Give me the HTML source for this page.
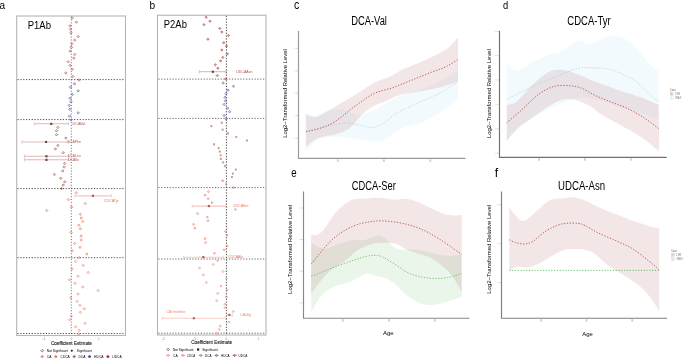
<!DOCTYPE html>
<html><head><meta charset="utf-8"><style>
html,body{margin:0;padding:0;background:#fff;width:685px;height:358px;overflow:hidden}
svg{display:block;will-change:transform}
</style></head><body>
<svg width="685" height="358" viewBox="0 0 685 358">
<rect width="685" height="358" fill="#fff"/>
<text x="-0.5" y="8.6" font-size="11.5" fill="#000" text-anchor="start" textLength="5.6" lengthAdjust="spacingAndGlyphs" font-family="Liberation Sans, sans-serif" >a</text>
<text x="149.6" y="8.5" font-size="11.8" fill="#000" text-anchor="start" textLength="5.6" lengthAdjust="spacingAndGlyphs" font-family="Liberation Sans, sans-serif" >b</text>
<text x="294" y="8.5" font-size="12" fill="#000" text-anchor="start" textLength="5.3" lengthAdjust="spacingAndGlyphs" font-family="Liberation Sans, sans-serif" >c</text>
<text x="503" y="8.6" font-size="11.8" fill="#000" text-anchor="start" textLength="5.2" lengthAdjust="spacingAndGlyphs" font-family="Liberation Sans, sans-serif" >d</text>
<text x="291.2" y="176.7" font-size="12.6" fill="#000" text-anchor="start" textLength="5.4" lengthAdjust="spacingAndGlyphs" font-family="Liberation Sans, sans-serif" >e</text>
<text x="494.8" y="176.7" font-size="12.2" fill="#000" text-anchor="start" textLength="3.4" lengthAdjust="spacingAndGlyphs" font-family="Liberation Sans, sans-serif" >f</text>
<path d="M305.8,113.0 C307.0,113.5 310.3,116.0 313.0,116.0 C315.7,116.0 319.2,113.9 322.0,113.0 C324.8,112.1 326.3,111.0 330.0,110.5 C333.7,110.0 339.3,109.0 344.0,109.8 C348.7,110.6 353.3,115.3 358.0,115.5 C362.7,115.7 367.3,113.1 372.0,111.0 C376.7,108.9 381.3,105.5 386.0,103.0 C390.7,100.5 393.5,98.5 400.0,96.0 C406.5,93.5 417.5,90.8 425.0,88.0 C432.5,85.2 439.5,82.0 445.0,79.0 C450.5,76.0 455.8,71.5 458.0,70.0 L458.0,99.0 C455.9,100.7 450.9,105.2 445.3,109.0 C439.7,112.8 430.2,118.7 424.2,121.5 C418.1,124.3 413.6,124.5 409.0,126.0 C404.4,127.5 400.3,128.9 396.8,130.7 C393.3,132.5 390.8,135.2 388.0,137.0 C385.2,138.8 383.8,140.9 380.0,141.5 C376.2,142.1 370.4,141.1 365.5,140.5 C360.6,139.9 355.6,138.5 350.3,137.9 C345.1,137.3 339.3,136.5 334.0,136.8 C328.7,137.1 323.2,137.1 318.5,139.5 C313.8,141.9 307.9,149.1 305.8,151.0 Z" fill="#87ceeb" fill-opacity="0.10"/>
<path d="M305.9,114.3 C306.6,114.6 308.2,115.6 310.0,116.0 C311.8,116.4 314.3,117.4 316.8,116.8 C319.3,116.2 322.4,114.1 325.2,112.6 C328.0,111.1 330.8,109.3 333.6,107.6 C336.4,105.9 339.2,104.2 342.0,102.5 C344.8,100.8 346.8,99.8 350.3,97.7 C353.8,95.6 358.6,92.6 362.8,90.0 C367.0,87.4 370.9,84.2 375.4,82.0 C379.9,79.8 385.6,78.5 390.0,76.5 C394.4,74.5 396.2,72.5 401.8,69.9 C407.4,67.3 416.2,64.1 423.5,60.8 C430.8,57.5 439.6,53.9 445.3,50.0 C451.1,46.1 455.9,39.6 458.0,37.5 L458.0,81.6 C455.8,82.3 450.5,84.5 445.0,86.0 C439.5,87.5 432.5,89.0 425.0,90.5 C417.5,92.0 406.5,93.2 400.0,95.0 C393.5,96.8 390.7,99.0 386.0,101.0 C381.3,103.0 376.2,104.6 372.0,107.0 C367.8,109.4 364.3,112.3 361.0,115.5 C357.7,118.7 354.7,123.4 352.0,126.0 C349.3,128.6 347.8,129.6 345.0,131.0 C342.2,132.4 338.3,133.6 335.0,134.5 C331.7,135.4 328.2,135.8 325.2,136.5 C322.2,137.2 320.0,136.8 316.8,138.6 C313.6,140.3 307.7,145.6 305.9,147.0 Z" fill="#a0323c" fill-opacity="0.12"/>
<path d="M305.8,131.6 C309.0,130.8 318.4,128.0 325.1,126.6 C331.8,125.2 340.0,123.2 345.9,123.0 C351.8,122.8 355.7,124.6 360.3,125.3 C364.9,126.0 369.2,128.0 373.3,127.4 C377.4,126.9 381.1,124.4 385.0,122.0 C388.9,119.6 391.2,116.3 397.0,113.0 C402.8,109.7 412.8,105.3 420.0,102.0 C427.2,98.7 433.7,96.4 440.0,93.0 C446.3,89.6 455.0,83.5 458.0,81.6" fill="none" stroke="#8fd0d4" stroke-width="0.7" stroke-dasharray="1.2 1.6"/>
<path d="M305.9,131.5 C308.0,131.1 313.8,130.4 318.5,128.8 C323.2,127.2 328.3,125.7 334.2,122.1 C340.1,118.5 347.2,111.9 353.7,107.2 C360.2,102.5 366.8,97.2 373.3,93.9 C379.8,90.6 386.4,89.9 392.9,87.6 C399.4,85.2 406.0,82.4 412.5,79.8 C419.0,77.2 426.5,74.1 432.0,72.0 C437.5,69.9 441.0,69.1 445.3,67.0 C449.6,64.9 455.9,60.8 458.0,59.5" fill="none" stroke="#b84444" stroke-width="0.85" stroke-dasharray="1.3 1.6"/>
<g fill="none"><path d="M298.5,31.0 V158.4 H465.5" stroke="#999" stroke-width="1.15"/><path d="M298.1,48.3 h-2.2" stroke="#c4c4c4" stroke-width="0.7"/><path d="M295.7,48.3 h-2" stroke="#e8e8e8" stroke-width="1.0"/><path d="M298.1,70.9 h-2.2" stroke="#c4c4c4" stroke-width="0.7"/><path d="M295.7,70.9 h-2" stroke="#e8e8e8" stroke-width="1.0"/><path d="M298.1,93.2 h-2.2" stroke="#c4c4c4" stroke-width="0.7"/><path d="M295.7,93.2 h-2" stroke="#e8e8e8" stroke-width="1.0"/><path d="M298.1,115.6 h-2.2" stroke="#c4c4c4" stroke-width="0.7"/><path d="M295.7,115.6 h-2" stroke="#e8e8e8" stroke-width="1.0"/><path d="M298.1,138.1 h-2.2" stroke="#c4c4c4" stroke-width="0.7"/><path d="M295.7,138.1 h-2" stroke="#e8e8e8" stroke-width="1.0"/><rect x="336.9" y="159.4" width="1.9" height="2.4" fill="#cfcfcf"/><rect x="382.9" y="159.4" width="1.9" height="2.4" fill="#cfcfcf"/><rect x="429.4" y="159.4" width="1.9" height="2.4" fill="#cfcfcf"/></g>
<text transform="translate(287.2,137.8) rotate(-90)" font-size="5.4" fill="#000" textLength="88.7" lengthAdjust="spacingAndGlyphs" font-family="Liberation Sans, sans-serif">Log2−Transformed Relative Level</text>
<text x="351.3" y="24.9" font-size="12" fill="#000" text-anchor="start" textLength="35.6" lengthAdjust="spacingAndGlyphs" font-family="Liberation Sans, sans-serif" >DCA-Val</text>
<path d="M506.7,63.5 C507.7,64.4 510.6,67.6 512.6,68.8 C514.6,70.0 516.4,71.1 518.9,70.5 C521.4,69.9 525.0,66.6 527.7,65.0 C530.4,63.4 531.5,62.8 535.2,61.0 C538.9,59.2 545.7,55.8 549.8,54.4 C553.9,53.0 555.0,54.7 559.6,52.4 C564.2,50.1 572.3,42.0 577.2,40.7 C582.1,39.4 585.2,44.7 589.0,44.6 C592.8,44.5 596.1,41.6 600.1,40.1 C604.1,38.6 608.5,36.0 612.7,35.8 C616.9,35.6 621.0,36.4 625.2,38.8 C629.4,41.2 633.6,45.7 637.8,50.1 C642.0,54.5 646.9,61.6 650.4,65.2 C653.9,68.8 657.3,70.5 658.7,71.5 L658.7,119.0 C655.6,118.0 646.5,115.0 640.0,113.0 C633.5,111.0 626.7,109.2 620.0,107.0 C613.3,104.8 606.7,101.5 600.0,100.0 C593.3,98.5 586.7,97.3 580.0,98.0 C573.3,98.7 565.8,101.8 560.0,104.0 C554.2,106.2 550.0,108.4 545.0,111.0 C540.0,113.6 534.4,116.6 530.0,119.5 C525.6,122.4 522.4,124.9 518.5,128.5 C514.6,132.1 508.7,138.9 506.7,141.0 Z" fill="#87ceeb" fill-opacity="0.10"/>
<path d="M506.7,104.8 C508.1,104.5 512.0,104.7 515.1,102.7 C518.2,100.7 521.3,96.5 525.1,92.7 C528.9,88.9 533.5,83.7 537.7,80.1 C541.9,76.5 546.1,73.0 550.3,71.3 C554.5,69.6 558.3,69.5 562.8,70.0 C567.2,70.5 572.1,72.2 577.0,74.0 C581.9,75.8 586.5,78.3 592.0,80.5 C597.5,82.7 604.5,85.0 610.0,87.0 C615.5,89.0 620.0,90.8 625.0,92.5 C630.0,94.2 634.4,94.9 640.0,97.0 C645.6,99.1 655.6,103.7 658.7,105.0 L659.2,151.5 C657.7,150.2 653.2,146.2 650.4,144.0 C647.6,141.8 646.7,140.7 642.5,138.0 C638.3,135.3 631.9,131.5 625.2,127.7 C618.5,123.9 608.2,118.6 602.3,115.0 C596.4,111.4 594.5,108.5 590.0,106.0 C585.5,103.5 579.9,101.1 575.4,100.0 C570.9,98.9 567.0,98.6 562.8,99.5 C558.6,100.4 554.5,102.8 550.3,105.2 C546.1,107.6 541.9,111.1 537.7,114.0 C533.5,116.9 528.3,120.5 525.1,122.8 C521.9,125.1 521.6,124.6 518.5,127.6 C515.4,130.5 508.7,138.3 506.7,140.5 Z" fill="#a0323c" fill-opacity="0.12"/>
<path d="M506.7,99.2 C508.9,98.1 514.9,95.2 520.1,92.7 C525.3,90.2 532.7,86.3 537.7,84.0 C542.7,81.7 545.7,80.8 550.3,78.9 C554.9,77.0 561.2,74.5 565.4,72.8 C569.6,71.1 572.0,69.9 575.4,69.0 C578.8,68.1 582.2,67.7 585.5,67.5 C588.8,67.3 591.9,67.9 595.1,68.0 C598.3,68.1 601.7,67.9 604.6,68.3 C607.5,68.7 609.3,69.0 612.7,70.2 C616.1,71.4 621.0,73.2 625.2,75.3 C629.4,77.4 633.6,79.5 637.8,82.8 C642.0,86.1 646.9,91.8 650.4,95.0 C653.9,98.2 657.3,100.8 658.7,102.0" fill="none" stroke="#8fd0d4" stroke-width="0.7" stroke-dasharray="1.2 1.6"/>
<path d="M506.7,122.9 C509.3,120.6 517.2,113.9 522.4,109.2 C527.6,104.5 532.9,98.5 538.1,94.7 C543.3,90.9 548.5,88.0 553.7,86.5 C558.9,85.0 564.8,85.5 569.4,85.7 C574.0,86.0 576.8,86.4 581.1,88.0 C585.4,89.6 590.2,93.1 595.1,95.4 C600.0,97.7 605.2,99.7 610.2,101.7 C615.2,103.7 619.8,105.0 625.2,107.5 C630.6,110.0 636.9,113.3 642.5,116.8 C648.1,120.3 656.0,126.5 658.7,128.5" fill="none" stroke="#b84444" stroke-width="0.85" stroke-dasharray="1.3 1.6"/>
<g fill="none"><path d="M499.5,30.7 V157.3 H666.7" stroke="#707070" stroke-width="1.15"/><path d="M499.1,31.5 h-2.2" stroke="#c4c4c4" stroke-width="0.7"/><path d="M496.7,31.5 h-2" stroke="#e8e8e8" stroke-width="1.0"/><path d="M499.1,55.7 h-2.2" stroke="#c4c4c4" stroke-width="0.7"/><path d="M496.7,55.7 h-2" stroke="#e8e8e8" stroke-width="1.0"/><path d="M499.1,79.9 h-2.2" stroke="#c4c4c4" stroke-width="0.7"/><path d="M496.7,79.9 h-2" stroke="#e8e8e8" stroke-width="1.0"/><path d="M499.1,104.3 h-2.2" stroke="#c4c4c4" stroke-width="0.7"/><path d="M496.7,104.3 h-2" stroke="#e8e8e8" stroke-width="1.0"/><path d="M499.1,128.8 h-2.2" stroke="#c4c4c4" stroke-width="0.7"/><path d="M496.7,128.8 h-2" stroke="#e8e8e8" stroke-width="1.0"/><path d="M499.1,153.1 h-2.2" stroke="#c4c4c4" stroke-width="0.7"/><path d="M496.7,153.1 h-2" stroke="#e8e8e8" stroke-width="1.0"/><rect x="538.1" y="158.3" width="1.9" height="2.4" fill="#cfcfcf"/><rect x="584.0" y="158.3" width="1.9" height="2.4" fill="#cfcfcf"/><rect x="629.9" y="158.3" width="1.9" height="2.4" fill="#cfcfcf"/></g>
<text transform="translate(491.2,138.1) rotate(-90)" font-size="5.4" fill="#000" textLength="89.1" lengthAdjust="spacingAndGlyphs" font-family="Liberation Sans, sans-serif">Log2−Transformed Relative Level</text>
<text x="567.3" y="24.6" font-size="12" fill="#000" text-anchor="start" textLength="43.3" lengthAdjust="spacingAndGlyphs" font-family="Liberation Sans, sans-serif" >CDCA-Tyr</text>
<path d="M311.2,241.8 C311.9,242.5 313.3,244.7 315.7,245.8 C318.1,247.0 321.5,249.0 325.4,248.7 C329.3,248.4 334.5,245.3 339.1,243.8 C343.7,242.3 348.6,240.6 352.8,239.9 C357.1,239.2 360.4,240.7 364.6,239.9 C368.9,239.2 374.7,235.6 378.3,235.4 C381.9,235.2 383.4,236.9 386.1,238.9 C388.9,240.9 391.7,245.9 394.8,247.7 C397.9,249.5 400.4,249.3 404.6,249.7 C408.8,250.1 415.8,249.6 420.0,250.1 C424.2,250.6 426.6,251.8 430.0,252.6 C433.4,253.4 436.7,254.2 440.1,254.8 C443.5,255.4 446.6,255.9 450.2,255.9 C453.8,255.9 459.8,255.0 461.7,254.8 L461.7,297.0 C459.3,297.7 452.1,300.1 447.5,301.4 C442.9,302.7 438.6,304.4 434.1,304.8 C429.6,305.2 425.2,305.1 420.7,303.6 C416.2,302.1 411.4,299.0 407.3,295.8 C403.2,292.6 399.9,287.7 396.2,284.7 C392.5,281.7 388.6,279.6 385.0,278.0 C381.4,276.4 377.4,276.1 374.3,275.4 C371.2,274.6 369.1,273.2 366.5,273.5 C363.9,273.8 361.6,275.9 358.7,277.4 C355.8,278.9 352.8,280.8 348.9,282.3 C345.0,283.8 339.1,284.6 335.2,286.2 C331.3,287.8 328.3,289.7 325.4,292.1 C322.5,294.6 320.0,297.5 317.6,300.9 C315.2,304.3 312.3,310.7 311.2,312.6 Z" fill="#4daf4a" fill-opacity="0.11"/>
<path d="M311.2,234.0 C311.9,234.2 313.6,236.1 315.7,235.4 C317.8,234.8 320.6,233.4 323.5,230.1 C326.4,226.8 330.1,219.5 333.3,215.4 C336.6,211.3 339.8,208.4 343.0,205.7 C346.2,203.0 349.2,200.6 352.8,199.4 C356.4,198.2 361.0,199.1 364.6,198.8 C368.2,198.5 371.1,197.9 374.3,197.8 C377.6,197.7 380.7,197.9 384.1,198.2 C387.5,198.5 391.4,199.7 394.8,199.8 C398.2,199.9 401.4,198.6 404.6,198.8 C407.9,199.0 411.1,199.8 414.3,200.8 C417.6,201.8 420.8,203.2 424.1,204.7 C427.4,206.2 430.6,208.1 433.9,209.6 C437.2,211.1 440.4,212.9 443.7,213.9 C447.0,214.9 450.5,215.2 453.5,215.4 C456.5,215.6 460.3,215.1 461.7,215.0 L461.7,292.0 C460.9,290.6 458.8,286.7 456.9,283.6 C455.0,280.5 453.0,276.8 450.2,273.6 C447.4,270.4 443.5,267.0 440.1,264.3 C436.7,261.6 433.4,259.3 430.0,257.6 C426.6,255.9 424.1,255.7 420.0,254.3 C415.9,252.9 409.7,250.8 405.5,249.0 C401.3,247.2 398.4,244.3 394.8,243.3 C391.2,242.3 387.8,242.7 384.1,242.8 C380.4,242.9 376.6,242.9 372.4,244.0 C368.2,245.1 362.6,247.3 358.7,249.5 C354.8,251.7 352.2,254.9 348.9,257.4 C345.6,259.9 342.4,262.3 339.1,264.7 C335.8,267.1 332.6,268.6 329.3,271.5 C326.1,274.4 322.6,278.6 319.6,282.3 C316.6,286.1 312.6,292.1 311.2,294.0 Z" fill="#a0323c" fill-opacity="0.12"/>
<path d="M311.2,276.4 C313.2,275.6 318.9,273.4 323.5,271.5 C328.1,269.6 333.9,267.2 339.1,265.3 C344.3,263.4 350.2,261.3 354.8,259.8 C359.4,258.3 363.2,257.1 366.5,256.3 C369.8,255.6 371.7,255.2 374.3,255.3 C376.9,255.4 378.6,255.2 382.2,256.8 C385.8,258.4 392.0,262.4 396.2,265.0 C400.4,267.6 403.2,270.4 407.3,272.4 C411.4,274.4 416.2,275.8 420.7,276.8 C425.2,277.8 429.6,278.3 434.1,278.4 C438.6,278.5 442.9,278.3 447.5,277.5 C452.1,276.7 459.3,274.2 461.7,273.6" fill="none" stroke="#5cb85c" stroke-width="0.8" stroke-dasharray="1.3 1.6"/>
<path d="M311.2,264.1 C313.6,261.2 321.4,251.2 325.4,246.7 C329.4,242.2 331.6,239.9 335.2,237.0 C338.8,234.1 343.1,231.2 347.0,229.1 C350.9,227.0 354.8,225.4 358.7,224.2 C362.6,223.0 366.5,222.2 370.4,221.7 C374.3,221.1 377.8,220.8 382.2,220.9 C386.6,221.0 392.3,221.7 396.7,222.3 C401.1,223.0 404.6,223.7 408.5,224.8 C412.4,225.9 416.3,227.1 420.2,228.7 C424.1,230.3 428.1,232.4 432.0,234.6 C435.9,236.8 440.1,239.5 443.7,241.8 C447.3,244.2 450.5,246.6 453.5,248.7 C456.5,250.8 460.3,253.4 461.7,254.3" fill="none" stroke="#b84444" stroke-width="0.85" stroke-dasharray="1.3 1.6"/>
<g fill="none"><path d="M303.5,191.4 V318.2 H469.4" stroke="#888" stroke-width="1.15"/><path d="M303.1,208.0 h-2.2" stroke="#c4c4c4" stroke-width="0.7"/><path d="M300.7,208.0 h-2" stroke="#e8e8e8" stroke-width="1.0"/><path d="M303.1,239.5 h-2.2" stroke="#c4c4c4" stroke-width="0.7"/><path d="M300.7,239.5 h-2" stroke="#e8e8e8" stroke-width="1.0"/><path d="M303.1,271.2 h-2.2" stroke="#c4c4c4" stroke-width="0.7"/><path d="M300.7,271.2 h-2" stroke="#e8e8e8" stroke-width="1.0"/><path d="M303.1,302.9 h-2.2" stroke="#c4c4c4" stroke-width="0.7"/><path d="M300.7,302.9 h-2" stroke="#e8e8e8" stroke-width="1.0"/><rect x="341.9" y="319.2" width="1.9" height="2.4" fill="#cfcfcf"/><rect x="388.1" y="319.2" width="1.9" height="2.4" fill="#cfcfcf"/><rect x="433.8" y="319.2" width="1.9" height="2.4" fill="#cfcfcf"/></g>
<text transform="translate(292.0,293.9) rotate(-90)" font-size="5.4" fill="#000" textLength="89.1" lengthAdjust="spacingAndGlyphs" font-family="Liberation Sans, sans-serif">Log2−Transformed Relative Level</text>
<text x="351.8" y="189.6" font-size="12" fill="#000" text-anchor="start" textLength="44" lengthAdjust="spacingAndGlyphs" font-family="Liberation Sans, sans-serif" >CDCA-Ser</text>
<text x="383" y="335.2" font-size="5.5" fill="#000" text-anchor="start" textLength="10.6" lengthAdjust="spacingAndGlyphs" font-family="Liberation Sans, sans-serif" >Age</text>
<path d="M509.3,207.1 C510.3,208.4 513.1,212.8 515.1,215.1 C517.1,217.4 519.3,220.1 521.4,220.7 C523.5,221.3 525.0,220.7 527.7,218.9 C530.4,217.1 533.9,213.2 537.7,210.1 C541.5,207.0 546.1,202.1 550.3,200.1 C554.5,198.1 559.1,198.8 562.9,198.3 C566.7,197.8 569.2,196.6 572.9,197.0 C576.6,197.4 580.5,198.7 585.0,200.5 C589.5,202.3 593.3,204.8 600.0,207.7 C606.7,210.6 616.6,214.6 625.0,217.7 C633.4,220.8 644.7,224.7 650.4,226.5 C656.1,228.3 657.7,228.0 659.2,228.3 L659.2,311.7 C658.1,309.9 655.6,304.7 652.7,300.8 C649.8,296.9 646.0,292.0 641.8,288.1 C637.5,284.2 632.7,280.8 627.2,277.2 C621.8,273.6 614.6,270.2 609.1,266.3 C603.6,262.4 598.5,256.4 594.5,253.6 C590.5,250.8 588.2,250.6 585.0,249.8 C581.8,249.1 578.7,249.1 575.4,249.1 C572.1,249.1 569.2,248.5 565.4,249.6 C561.6,250.7 557.0,253.2 552.8,255.4 C548.6,257.6 544.4,260.9 540.2,262.9 C536.0,264.9 531.5,266.8 527.7,267.4 C523.9,268.0 520.7,266.2 517.6,266.7 C514.5,267.2 510.7,269.8 509.3,270.4 Z" fill="#a0323c" fill-opacity="0.12"/>
<path d="M509.3,270.4 H659.2" stroke="#5cb85c" stroke-width="0.9" stroke-dasharray="1.2 1.6"/>
<path d="M509.3,239.8 C510.3,240.2 512.7,241.6 515.1,242.3 C517.5,243.0 521.0,244.1 523.9,244.0 C526.8,243.9 529.1,243.6 532.7,241.5 C536.3,239.4 541.1,234.2 545.3,231.5 C549.5,228.8 554.0,226.6 557.8,225.2 C561.6,223.8 564.5,223.5 567.9,223.2 C571.3,222.9 575.1,223.0 578.0,223.4 C580.9,223.8 581.6,223.9 585.0,225.5 C588.4,227.1 593.0,230.3 598.2,232.9 C603.4,235.5 610.2,238.1 616.3,240.9 C622.3,243.8 627.4,245.2 634.5,250.0 C641.6,254.8 655.1,266.2 659.2,269.5" fill="none" stroke="#b84444" stroke-width="0.85" stroke-dasharray="1.3 1.6"/>
<g fill="none"><path d="M501.5,191.4 V318.2 H667.1" stroke="#808080" stroke-width="1.15"/><path d="M501.1,204.7 h-2.2" stroke="#c4c4c4" stroke-width="0.7"/><path d="M498.7,204.7 h-2" stroke="#e8e8e8" stroke-width="1.0"/><path d="M501.1,243.7 h-2.2" stroke="#c4c4c4" stroke-width="0.7"/><path d="M498.7,243.7 h-2" stroke="#e8e8e8" stroke-width="1.0"/><path d="M501.1,282.6 h-2.2" stroke="#c4c4c4" stroke-width="0.7"/><path d="M498.7,282.6 h-2" stroke="#e8e8e8" stroke-width="1.0"/><rect x="540.2" y="319.2" width="1.9" height="2.4" fill="#cfcfcf"/><rect x="585.5" y="319.2" width="1.9" height="2.4" fill="#cfcfcf"/><rect x="631.3" y="319.2" width="1.9" height="2.4" fill="#cfcfcf"/></g>
<text transform="translate(491.0,293.7) rotate(-90)" font-size="5.8" fill="#000" textLength="88.9" lengthAdjust="spacingAndGlyphs" font-family="Liberation Sans, sans-serif">Log2−Transformed Relative Level</text>
<text x="558.1" y="189.6" font-size="12" fill="#000" text-anchor="start" textLength="47" lengthAdjust="spacingAndGlyphs" font-family="Liberation Sans, sans-serif" >UDCA-Asn</text>
<text x="582.2" y="335.5" font-size="5.5" fill="#000" text-anchor="start" textLength="10.6" lengthAdjust="spacingAndGlyphs" font-family="Liberation Sans, sans-serif" >Age</text>
<text x="669.8" y="90.69999999999999" font-size="3.2" fill="#666" text-anchor="start" textLength="6.0" lengthAdjust="spacingAndGlyphs" font-family="Liberation Sans, sans-serif" >Case</text><rect x="670.2" y="92.4" width="2.9" height="3.0" fill="#a0323c" fill-opacity="0.1" stroke="#a0323c" stroke-opacity="0.35" stroke-width="0.35"/><path d="M671.6,92.9 v2" stroke="#a0323c" stroke-width="0.5" stroke-opacity="0.6"/><rect x="670.2" y="96.8" width="2.9" height="3.0" fill="#87ceeb" fill-opacity="0.1" stroke="#87ceeb" stroke-opacity="0.35" stroke-width="0.35"/><path d="M671.6,97.3 v2" stroke="#87ceeb" stroke-width="0.5" stroke-opacity="0.6"/><text x="675.1999999999999" y="94.8" font-size="2.6" fill="#777" text-anchor="start" textLength="4.8" lengthAdjust="spacingAndGlyphs" font-family="Liberation Sans, sans-serif" >LVR</text><text x="675.1999999999999" y="98.8" font-size="2.6" fill="#777" text-anchor="start" textLength="6.3" lengthAdjust="spacingAndGlyphs" font-family="Liberation Sans, sans-serif" >WNAVS</text>
<text x="671" y="251.6" font-size="3.2" fill="#666" text-anchor="start" textLength="6.0" lengthAdjust="spacingAndGlyphs" font-family="Liberation Sans, sans-serif" >Case</text><rect x="671.4" y="253.3" width="2.9" height="3.0" fill="#a0323c" fill-opacity="0.1" stroke="#a0323c" stroke-opacity="0.35" stroke-width="0.35"/><path d="M672.9,253.8 v2" stroke="#a0323c" stroke-width="0.5" stroke-opacity="0.6"/><rect x="671.4" y="257.7" width="2.9" height="3.0" fill="#4daf4a" fill-opacity="0.1" stroke="#4daf4a" stroke-opacity="0.35" stroke-width="0.35"/><path d="M672.9,258.2 v2" stroke="#4daf4a" stroke-width="0.5" stroke-opacity="0.6"/><text x="676.4" y="255.7" font-size="2.6" fill="#777" text-anchor="start" textLength="4.8" lengthAdjust="spacingAndGlyphs" font-family="Liberation Sans, sans-serif" >LVR</text><text x="676.4" y="259.7" font-size="2.6" fill="#777" text-anchor="start" textLength="6.3" lengthAdjust="spacingAndGlyphs" font-family="Liberation Sans, sans-serif" >WNAVS</text>
<rect x="16.7" y="16.0" width="108.8" height="319.5" fill="none" stroke="#b5b5b5" stroke-width="1.1"/><path d="M17.5,79.6 H124.9" stroke="#222" stroke-width="0.8" stroke-dasharray="1.25 1.58"/><path d="M17.5,119.6 H124.9" stroke="#222" stroke-width="0.8" stroke-dasharray="1.25 1.58"/><path d="M17.5,188.6 H124.9" stroke="#222" stroke-width="0.8" stroke-dasharray="1.25 1.58"/><path d="M17.5,257.7 H124.9" stroke="#222" stroke-width="0.8" stroke-dasharray="1.25 1.58"/><path d="M17.5,333.5 H124.9" stroke="#222" stroke-width="0.8" stroke-dasharray="1.25 1.58"/><path d="M71.3,16.6 V334.9" stroke="#3a3a3a" stroke-width="0.7" stroke-dasharray="1.1 1.75"/>
<text x="27.7" y="29.1" font-size="11.5" fill="#000" text-anchor="start" textLength="23.3" lengthAdjust="spacingAndGlyphs" font-family="Liberation Sans, sans-serif" >P1Ab</text>
<g fill="#c0504f" fill-opacity="0.25" stroke="#c0504f" stroke-width="0.6"><path d="M72.3,16.8 l1.25,1.25 l-1.25,1.25 l-1.25,-1.25 Z"/><path d="M76.4,20.9 l1.25,1.25 l-1.25,1.25 l-1.25,-1.25 Z"/><path d="M70.1,24.5 l1.25,1.25 l-1.25,1.25 l-1.25,-1.25 Z"/><path d="M70.5,27.9 l1.25,1.25 l-1.25,1.25 l-1.25,-1.25 Z"/><path d="M71.0,31.6 l1.25,1.25 l-1.25,1.25 l-1.25,-1.25 Z"/><path d="M78.2,35.4 l1.25,1.25 l-1.25,1.25 l-1.25,-1.25 Z"/><path d="M74.7,38.9 l1.25,1.25 l-1.25,1.25 l-1.25,-1.25 Z"/><path d="M71.9,42.4 l1.25,1.25 l-1.25,1.25 l-1.25,-1.25 Z"/><path d="M71.4,46.0 l1.25,1.25 l-1.25,1.25 l-1.25,-1.25 Z"/><path d="M70.1,49.8 l1.25,1.25 l-1.25,1.25 l-1.25,-1.25 Z"/><path d="M74.7,53.2 l1.25,1.25 l-1.25,1.25 l-1.25,-1.25 Z"/><path d="M73.8,56.9 l1.25,1.25 l-1.25,1.25 l-1.25,-1.25 Z"/><path d="M68.2,60.5 l1.25,1.25 l-1.25,1.25 l-1.25,-1.25 Z"/><path d="M70.1,64.2 l1.25,1.25 l-1.25,1.25 l-1.25,-1.25 Z"/><path d="M72.3,68.0 l1.25,1.25 l-1.25,1.25 l-1.25,-1.25 Z"/><path d="M65.8,71.7 l1.25,1.25 l-1.25,1.25 l-1.25,-1.25 Z"/><path d="M72.9,75.2 l1.25,1.25 l-1.25,1.25 l-1.25,-1.25 Z"/><path d="M79.1,78.7 l1.25,1.25 l-1.25,1.25 l-1.25,-1.25 Z"/></g>
<g fill="#5a5aa8" fill-opacity="0.25" stroke="#5a5aa8" stroke-width="0.6"><path d="M74.5,82.6 l1.25,1.25 l-1.25,1.25 l-1.25,-1.25 Z"/><path d="M70.5,85.9 l1.25,1.25 l-1.25,1.25 l-1.25,-1.25 Z"/><path d="M78.2,89.6 l1.25,1.25 l-1.25,1.25 l-1.25,-1.25 Z"/><path d="M72.3,93.2 l1.25,1.25 l-1.25,1.25 l-1.25,-1.25 Z"/><path d="M70.1,97.0 l1.25,1.25 l-1.25,1.25 l-1.25,-1.25 Z"/><path d="M71.0,100.5 l1.25,1.25 l-1.25,1.25 l-1.25,-1.25 Z"/><path d="M69.2,104.2 l1.25,1.25 l-1.25,1.25 l-1.25,-1.25 Z"/><path d="M69.9,108.1 l1.25,1.25 l-1.25,1.25 l-1.25,-1.25 Z"/><path d="M78.2,111.6 l1.25,1.25 l-1.25,1.25 l-1.25,-1.25 Z"/><path d="M69.5,114.9 l1.25,1.25 l-1.25,1.25 l-1.25,-1.25 Z"/><path d="M71.0,118.6 l1.25,1.25 l-1.25,1.25 l-1.25,-1.25 Z"/></g>
<g fill="#a4564c" fill-opacity="0.25" stroke="#a4564c" stroke-width="0.6"><path d="M57.9,126.1 l1.25,1.25 l-1.25,1.25 l-1.25,-1.25 Z"/><path d="M56.5,129.5 l1.25,1.25 l-1.25,1.25 l-1.25,-1.25 Z"/><path d="M56.5,133.5 l1.25,1.25 l-1.25,1.25 l-1.25,-1.25 Z"/><path d="M65.9,136.8 l1.25,1.25 l-1.25,1.25 l-1.25,-1.25 Z"/><path d="M57.9,144.2 l1.25,1.25 l-1.25,1.25 l-1.25,-1.25 Z"/><path d="M55.4,147.7 l1.25,1.25 l-1.25,1.25 l-1.25,-1.25 Z"/><path d="M63.2,151.5 l1.25,1.25 l-1.25,1.25 l-1.25,-1.25 Z"/><path d="M64.6,162.3 l1.25,1.25 l-1.25,1.25 l-1.25,-1.25 Z"/><path d="M64.2,165.8 l1.25,1.25 l-1.25,1.25 l-1.25,-1.25 Z"/><path d="M62.7,169.7 l1.25,1.25 l-1.25,1.25 l-1.25,-1.25 Z"/><path d="M54.4,173.2 l1.25,1.25 l-1.25,1.25 l-1.25,-1.25 Z"/><path d="M60.7,177.0 l1.25,1.25 l-1.25,1.25 l-1.25,-1.25 Z"/><path d="M64.8,180.6 l1.25,1.25 l-1.25,1.25 l-1.25,-1.25 Z"/><path d="M63.2,183.8 l1.25,1.25 l-1.25,1.25 l-1.25,-1.25 Z"/></g>
<path d="M61.5,187.1 l1.3,1.3 l-1.3,1.3 l-1.3,-1.3 Z" fill="#a4564c"/>
<g stroke="#a4564c" fill="none" opacity="0.4"><path d="M34.3,123.8 H68.4" stroke-width="1.1"/><path d="M34.3,122.2 v3.2 M68.4,122.2 v3.2" stroke-width="0.8"/></g><rect x="50.2" y="122.8" width="2.1" height="2.1" fill="#a4564c"/><rect x="50.2" y="122.8" width="2.1" height="2.1" fill="#000" fill-opacity="0.25"/><text x="72.6" y="124.80000000000001" font-size="3.6" fill="#a4564c" text-anchor="start" textLength="12.6" lengthAdjust="spacingAndGlyphs" font-family="Liberation Sans, sans-serif" >DCAVal</text>
<g stroke="#a4564c" fill="none" opacity="0.4"><path d="M21.9,142.0 H68.4" stroke-width="1.1"/><path d="M21.9,140.4 v3.2 M68.4,140.4 v3.2" stroke-width="0.8"/></g><rect x="45.0" y="140.9" width="2.1" height="2.1" fill="#a4564c"/><rect x="45.0" y="140.9" width="2.1" height="2.1" fill="#000" fill-opacity="0.25"/><text x="67.4" y="143.0" font-size="3.6" fill="#a4564c" text-anchor="start" textLength="13.6" lengthAdjust="spacingAndGlyphs" font-family="Liberation Sans, sans-serif" >DCAPhe</text>
<g stroke="#a4564c" fill="none" opacity="0.4"><path d="M24.4,156.2 H68.4" stroke-width="1.1"/><path d="M24.4,154.6 v3.2 M68.4,154.6 v3.2" stroke-width="0.8"/></g><rect x="45.4" y="155.2" width="2.1" height="2.1" fill="#a4564c"/><rect x="45.4" y="155.2" width="2.1" height="2.1" fill="#000" fill-opacity="0.25"/><text x="68" y="157.20000000000002" font-size="3.6" fill="#a4564c" text-anchor="start" textLength="12.5" lengthAdjust="spacingAndGlyphs" font-family="Liberation Sans, sans-serif" >DCALeu</text>
<g stroke="#a4564c" fill="none" opacity="0.4"><path d="M24.4,159.8 H68.4" stroke-width="1.1"/><path d="M24.4,158.2 v3.2 M68.4,158.2 v3.2" stroke-width="0.8"/></g><rect x="45.4" y="158.8" width="2.1" height="2.1" fill="#a4564c"/><rect x="45.4" y="158.8" width="2.1" height="2.1" fill="#000" fill-opacity="0.25"/><text x="68" y="160.8" font-size="3.6" fill="#a4564c" text-anchor="start" textLength="11" lengthAdjust="spacingAndGlyphs" font-family="Liberation Sans, sans-serif" >DCAIle</text>
<g fill="#e0785e" fill-opacity="0.25" stroke="#e0785e" stroke-width="0.6"><path d="M76.2,191.5 l1.25,1.25 l-1.25,1.25 l-1.25,-1.25 Z"/><path d="M68.4,198.3 l1.25,1.25 l-1.25,1.25 l-1.25,-1.25 Z"/><path d="M85.2,202.3 l1.25,1.25 l-1.25,1.25 l-1.25,-1.25 Z"/><path d="M71.6,205.8 l1.25,1.25 l-1.25,1.25 l-1.25,-1.25 Z"/><path d="M46.8,209.2 l1.25,1.25 l-1.25,1.25 l-1.25,-1.25 Z"/><path d="M80.4,213.1 l1.25,1.25 l-1.25,1.25 l-1.25,-1.25 Z"/><path d="M81.2,216.7 l1.25,1.25 l-1.25,1.25 l-1.25,-1.25 Z"/><path d="M82.7,220.2 l1.25,1.25 l-1.25,1.25 l-1.25,-1.25 Z"/><path d="M78.9,224.0 l1.25,1.25 l-1.25,1.25 l-1.25,-1.25 Z"/><path d="M80.4,227.6 l1.25,1.25 l-1.25,1.25 l-1.25,-1.25 Z"/><path d="M71.1,231.2 l1.25,1.25 l-1.25,1.25 l-1.25,-1.25 Z"/><path d="M81.2,234.8 l1.25,1.25 l-1.25,1.25 l-1.25,-1.25 Z"/><path d="M81.2,238.7 l1.25,1.25 l-1.25,1.25 l-1.25,-1.25 Z"/><path d="M74.7,242.2 l1.25,1.25 l-1.25,1.25 l-1.25,-1.25 Z"/><path d="M80.0,246.0 l1.25,1.25 l-1.25,1.25 l-1.25,-1.25 Z"/><path d="M72.2,249.6 l1.25,1.25 l-1.25,1.25 l-1.25,-1.25 Z"/><path d="M86.9,252.8 l1.25,1.25 l-1.25,1.25 l-1.25,-1.25 Z"/><path d="M79.3,256.4 l1.25,1.25 l-1.25,1.25 l-1.25,-1.25 Z"/></g>
<g stroke="#e0785e" fill="none" opacity="0.4"><path d="M74.7,195.9 H111.4" stroke-width="1.1"/><path d="M74.7,194.3 v3.2 M111.4,194.3 v3.2" stroke-width="0.8"/></g><rect x="91.9" y="194.8" width="2.1" height="2.1" fill="#e0785e"/><rect x="91.9" y="194.8" width="2.1" height="2.1" fill="#000" fill-opacity="0.25"/><text x="104" y="202.1" font-size="3.6" fill="#e0785e" text-anchor="start" textLength="14.7" lengthAdjust="spacingAndGlyphs" font-family="Liberation Sans, sans-serif" >CDCATyr</text>
<g fill="#ee8470" fill-opacity="0.25" stroke="#ee8470" stroke-width="0.6"><path d="M75.6,260.3 l1.25,1.25 l-1.25,1.25 l-1.25,-1.25 Z"/><path d="M83.2,264.1 l1.25,1.25 l-1.25,1.25 l-1.25,-1.25 Z"/><path d="M72.0,267.6 l1.25,1.25 l-1.25,1.25 l-1.25,-1.25 Z"/><path d="M88.2,271.2 l1.25,1.25 l-1.25,1.25 l-1.25,-1.25 Z"/><path d="M78.0,275.0 l1.25,1.25 l-1.25,1.25 l-1.25,-1.25 Z"/><path d="M69.6,278.6 l1.25,1.25 l-1.25,1.25 l-1.25,-1.25 Z"/><path d="M75.1,282.1 l1.25,1.25 l-1.25,1.25 l-1.25,-1.25 Z"/><path d="M82.7,285.8 l1.25,1.25 l-1.25,1.25 l-1.25,-1.25 Z"/><path d="M98.2,289.3 l1.25,1.25 l-1.25,1.25 l-1.25,-1.25 Z"/><path d="M78.0,292.8 l1.25,1.25 l-1.25,1.25 l-1.25,-1.25 Z"/><path d="M70.8,296.6 l1.25,1.25 l-1.25,1.25 l-1.25,-1.25 Z"/><path d="M77.2,300.2 l1.25,1.25 l-1.25,1.25 l-1.25,-1.25 Z"/><path d="M79.9,304.0 l1.25,1.25 l-1.25,1.25 l-1.25,-1.25 Z"/><path d="M84.4,307.6 l1.25,1.25 l-1.25,1.25 l-1.25,-1.25 Z"/><path d="M80.3,311.1 l1.25,1.25 l-1.25,1.25 l-1.25,-1.25 Z"/><path d="M71.3,314.9 l1.25,1.25 l-1.25,1.25 l-1.25,-1.25 Z"/><path d="M69.6,318.5 l1.25,1.25 l-1.25,1.25 l-1.25,-1.25 Z"/><path d="M85.1,322.1 l1.25,1.25 l-1.25,1.25 l-1.25,-1.25 Z"/><path d="M75.6,325.6 l1.25,1.25 l-1.25,1.25 l-1.25,-1.25 Z"/><path d="M79.1,329.2 l1.25,1.25 l-1.25,1.25 l-1.25,-1.25 Z"/><path d="M78.7,332.8 l1.25,1.25 l-1.25,1.25 l-1.25,-1.25 Z"/></g>
<text x="44" y="340" font-size="3.2" fill="#888" text-anchor="middle" font-family="Liberation Sans, sans-serif" >-1</text>
<text x="71.3" y="340" font-size="3.2" fill="#888" text-anchor="middle" font-family="Liberation Sans, sans-serif" >0</text>
<text x="98.8" y="340" font-size="3.2" fill="#888" text-anchor="middle" font-family="Liberation Sans, sans-serif" >1</text>
<text x="51" y="344.6" font-size="5.4" fill="#000" text-anchor="start" textLength="40.8" lengthAdjust="spacingAndGlyphs" font-family="Liberation Sans, sans-serif" stroke="#000" stroke-width="0.07">Coefficient Estimate</text>
<path d="M42.2,349.4 l1.3,1.3 l-1.3,1.3 l-1.3,-1.3 Z" fill="none" stroke="#222" stroke-width="0.6"/>
<text x="46.8" y="351.9" font-size="3.9" fill="#000" text-anchor="start" textLength="21" lengthAdjust="spacingAndGlyphs" font-family="Liberation Sans, sans-serif" >Not Significant</text>
<path d="M71.8,349.4 l1.3,1.3 l-1.3,1.3 l-1.3,-1.3 Z" fill="#222"/>
<text x="76.8" y="351.9" font-size="3.9" fill="#000" text-anchor="start" textLength="15" lengthAdjust="spacingAndGlyphs" font-family="Liberation Sans, sans-serif" >Significant</text>
<polygon points="42.20,354.50 42.76,355.84 44.20,355.95 43.10,356.89 43.43,358.30 42.20,357.55 40.97,358.30 41.30,356.89 40.20,355.95 41.64,355.84" fill="#ee8470"/>
<text x="46.8" y="358.0" font-size="3.9" fill="#000" text-anchor="start" textLength="4.6" lengthAdjust="spacingAndGlyphs" font-family="Liberation Sans, sans-serif" >CA</text>
<polygon points="55.80,354.50 56.36,355.84 57.80,355.95 56.70,356.89 57.03,358.30 55.80,357.55 54.57,358.30 54.90,356.89 53.80,355.95 55.24,355.84" fill="#e0785e"/>
<text x="60.6" y="358.0" font-size="3.9" fill="#000" text-anchor="start" textLength="9.2" lengthAdjust="spacingAndGlyphs" font-family="Liberation Sans, sans-serif" >CDCA</text>
<polygon points="74.20,354.50 74.76,355.84 76.20,355.95 75.10,356.89 75.43,358.30 74.20,357.55 72.97,358.30 73.30,356.89 72.20,355.95 73.64,355.84" fill="#a86050"/>
<text x="78.4" y="358.0" font-size="3.9" fill="#000" text-anchor="start" textLength="7.2" lengthAdjust="spacingAndGlyphs" font-family="Liberation Sans, sans-serif" >DCA</text>
<polygon points="89.50,354.50 90.06,355.84 91.50,355.95 90.40,356.89 90.73,358.30 89.50,357.55 88.27,358.30 88.60,356.89 87.50,355.95 88.94,355.84" fill="#4040a0"/>
<text x="94.1" y="358.0" font-size="3.9" fill="#000" text-anchor="start" textLength="9.5" lengthAdjust="spacingAndGlyphs" font-family="Liberation Sans, sans-serif" >HDCA</text>
<polygon points="107.90,354.50 108.46,355.84 109.90,355.95 108.80,356.89 109.13,358.30 107.90,357.55 106.67,358.30 107.00,356.89 105.90,355.95 107.34,355.84" fill="#a02828"/>
<text x="112.3" y="358.0" font-size="3.9" fill="#000" text-anchor="start" textLength="9.4" lengthAdjust="spacingAndGlyphs" font-family="Liberation Sans, sans-serif" >UDCA</text>
<rect x="157.5" y="15.2" width="108.5" height="319.8" fill="none" stroke="#b5b5b5" stroke-width="1.1"/><path d="M158.3,79.1 H265.4" stroke="#444" stroke-width="0.8" stroke-dasharray="1.25 1.58"/><path d="M158.3,118.4 H265.4" stroke="#444" stroke-width="0.8" stroke-dasharray="1.25 1.58"/><path d="M158.3,187.6 H265.4" stroke="#444" stroke-width="0.8" stroke-dasharray="1.25 1.58"/><path d="M158.3,259.0 H265.4" stroke="#444" stroke-width="0.8" stroke-dasharray="1.25 1.58"/><path d="M158.3,333.2 H265.4" stroke="#444" stroke-width="0.8" stroke-dasharray="1.25 1.58"/><path d="M226.4,15.8 V334.4" stroke="#222" stroke-width="0.75" stroke-dasharray="1.4 1.4"/>
<text x="163.8" y="28.3" font-size="11.5" fill="#000" text-anchor="start" textLength="23.1" lengthAdjust="spacingAndGlyphs" font-family="Liberation Sans, sans-serif" >P2Ab</text>
<g fill="#b04a4a" fill-opacity="0.5" stroke="#b04a4a" stroke-width="0.6"><path d="M206.1,16.1 l1.20,1.20 l-1.20,1.20 l-1.20,-1.20 Z"/><path d="M210.0,20.0 l1.20,1.20 l-1.20,1.20 l-1.20,-1.20 Z"/><path d="M204.0,23.5 l1.20,1.20 l-1.20,1.20 l-1.20,-1.20 Z"/><path d="M219.8,27.2 l1.20,1.20 l-1.20,1.20 l-1.20,-1.20 Z"/><path d="M221.8,30.8 l1.20,1.20 l-1.20,1.20 l-1.20,-1.20 Z"/><path d="M228.4,34.3 l1.20,1.20 l-1.20,1.20 l-1.20,-1.20 Z"/><path d="M207.9,38.0 l1.20,1.20 l-1.20,1.20 l-1.20,-1.20 Z"/><path d="M223.7,41.5 l1.20,1.20 l-1.20,1.20 l-1.20,-1.20 Z"/><path d="M226.5,45.0 l1.20,1.20 l-1.20,1.20 l-1.20,-1.20 Z"/><path d="M221.8,48.8 l1.20,1.20 l-1.20,1.20 l-1.20,-1.20 Z"/><path d="M227.4,52.7 l1.20,1.20 l-1.20,1.20 l-1.20,-1.20 Z"/><path d="M222.8,56.2 l1.20,1.20 l-1.20,1.20 l-1.20,-1.20 Z"/><path d="M220.6,59.7 l1.20,1.20 l-1.20,1.20 l-1.20,-1.20 Z"/><path d="M215.3,63.6 l1.20,1.20 l-1.20,1.20 l-1.20,-1.20 Z"/><path d="M217.9,67.1 l1.20,1.20 l-1.20,1.20 l-1.20,-1.20 Z"/><path d="M217.3,74.4 l1.20,1.20 l-1.20,1.20 l-1.20,-1.20 Z"/><path d="M225.7,77.7 l1.20,1.20 l-1.20,1.20 l-1.20,-1.20 Z"/></g>
<g stroke="#b04a4a" fill="none" opacity="0.4"><path d="M199.3,71.7 H226.1" stroke-width="1.1"/><path d="M199.3,70.1 v3.2 M226.1,70.1 v3.2" stroke-width="0.8"/></g><rect x="211.8" y="70.7" width="2.1" height="2.1" fill="#b04a4a"/><rect x="211.8" y="70.7" width="2.1" height="2.1" fill="#000" fill-opacity="0.25"/><text x="236.2" y="72.7" font-size="3.6" fill="#b04a4a" text-anchor="start" textLength="16.3" lengthAdjust="spacingAndGlyphs" font-family="Liberation Sans, sans-serif" >UDCAAsn</text>
<g fill="#5a5aa8" fill-opacity="0.25" stroke="#5a5aa8" stroke-width="0.6"><path d="M223.1,81.7 l1.25,1.25 l-1.25,1.25 l-1.25,-1.25 Z"/><path d="M233.5,85.0 l1.25,1.25 l-1.25,1.25 l-1.25,-1.25 Z"/><path d="M228.0,88.9 l1.25,1.25 l-1.25,1.25 l-1.25,-1.25 Z"/><path d="M226.1,92.4 l1.25,1.25 l-1.25,1.25 l-1.25,-1.25 Z"/><path d="M225.1,96.1 l1.25,1.25 l-1.25,1.25 l-1.25,-1.25 Z"/><path d="M225.5,99.6 l1.25,1.25 l-1.25,1.25 l-1.25,-1.25 Z"/><path d="M224.1,103.2 l1.25,1.25 l-1.25,1.25 l-1.25,-1.25 Z"/><path d="M227.6,106.9 l1.25,1.25 l-1.25,1.25 l-1.25,-1.25 Z"/><path d="M229.6,110.4 l1.25,1.25 l-1.25,1.25 l-1.25,-1.25 Z"/><path d="M224.1,114.2 l1.25,1.25 l-1.25,1.25 l-1.25,-1.25 Z"/><path d="M226.1,117.6 l1.25,1.25 l-1.25,1.25 l-1.25,-1.25 Z"/></g>
<g fill="#c08a80" fill-opacity="0.85"><rect x="220.8" y="121.7" width="2.0" height="2.0"/><rect x="210.4" y="125.2" width="2.0" height="2.0"/><rect x="221.6" y="128.7" width="2.0" height="2.0"/><rect x="227.0" y="132.4" width="2.0" height="2.0"/><rect x="235.2" y="135.9" width="2.0" height="2.0"/><rect x="246.0" y="139.5" width="2.0" height="2.0"/><rect x="213.0" y="143.3" width="2.0" height="2.0"/><rect x="217.6" y="147.1" width="2.0" height="2.0"/><rect x="218.8" y="150.6" width="2.0" height="2.0"/><rect x="219.6" y="154.4" width="2.0" height="2.0"/><rect x="219.8" y="157.9" width="2.0" height="2.0"/><rect x="222.1" y="161.4" width="2.0" height="2.0"/><rect x="224.1" y="165.1" width="2.0" height="2.0"/><rect x="234.9" y="168.6" width="2.0" height="2.0"/><rect x="231.9" y="172.6" width="2.0" height="2.0"/><rect x="230.9" y="176.1" width="2.0" height="2.0"/><rect x="221.6" y="179.8" width="2.0" height="2.0"/><rect x="225.1" y="183.3" width="2.0" height="2.0"/><rect x="232.5" y="186.6" width="2.0" height="2.0"/></g>
<g fill="#e0785e" fill-opacity="0.25" stroke="#e0785e" stroke-width="0.6"><path d="M208.5,190.5 l1.10,1.10 l-1.10,1.10 l-1.10,-1.10 Z"/><path d="M205.1,194.1 l1.10,1.10 l-1.10,1.10 l-1.10,-1.10 Z"/><path d="M208.1,197.6 l1.10,1.10 l-1.10,1.10 l-1.10,-1.10 Z"/><path d="M212.0,201.5 l1.10,1.10 l-1.10,1.10 l-1.10,-1.10 Z"/><path d="M235.4,208.4 l1.10,1.10 l-1.10,1.10 l-1.10,-1.10 Z"/><path d="M197.5,212.5 l1.10,1.10 l-1.10,1.10 l-1.10,-1.10 Z"/><path d="M207.3,216.0 l1.10,1.10 l-1.10,1.10 l-1.10,-1.10 Z"/><path d="M207.9,219.6 l1.10,1.10 l-1.10,1.10 l-1.10,-1.10 Z"/><path d="M193.6,223.3 l1.10,1.10 l-1.10,1.10 l-1.10,-1.10 Z"/><path d="M194.8,227.0 l1.10,1.10 l-1.10,1.10 l-1.10,-1.10 Z"/><path d="M225.5,230.3 l1.10,1.10 l-1.10,1.10 l-1.10,-1.10 Z"/><path d="M227.1,234.0 l1.10,1.10 l-1.10,1.10 l-1.10,-1.10 Z"/><path d="M205.0,237.5 l1.10,1.10 l-1.10,1.10 l-1.10,-1.10 Z"/><path d="M205.6,241.5 l1.10,1.10 l-1.10,1.10 l-1.10,-1.10 Z"/><path d="M227.1,245.0 l1.10,1.10 l-1.10,1.10 l-1.10,-1.10 Z"/><path d="M224.1,248.7 l1.10,1.10 l-1.10,1.10 l-1.10,-1.10 Z"/><path d="M214.4,252.2 l1.10,1.10 l-1.10,1.10 l-1.10,-1.10 Z"/></g>
<g stroke="#e0785e" fill="none" opacity="0.4"><path d="M192.2,206.1 H226.1" stroke-width="1.1"/><path d="M192.2,204.5 v3.2 M226.1,204.5 v3.2" stroke-width="0.8"/></g><rect x="207.8" y="205.0" width="2.1" height="2.1" fill="#e0785e"/><rect x="207.8" y="205.0" width="2.1" height="2.1" fill="#000" fill-opacity="0.25"/><text x="232.9" y="207.1" font-size="3.6" fill="#e0785e" text-anchor="start" textLength="15.7" lengthAdjust="spacingAndGlyphs" font-family="Liberation Sans, sans-serif" >CDCASer</text>
<g stroke="#e0785e" fill="none" opacity="0.4"><path d="M183.5,257.2 H223.6" stroke-width="1.1"/><path d="M183.5,255.6 v3.2 M223.6,255.6 v3.2" stroke-width="0.8"/></g><rect x="202.3" y="256.1" width="2.1" height="2.1" fill="#e0785e"/><rect x="202.3" y="256.1" width="2.1" height="2.1" fill="#000" fill-opacity="0.25"/><text x="228" y="258.2" font-size="3.6" fill="#e0785e" text-anchor="start" textLength="15.1" lengthAdjust="spacingAndGlyphs" font-family="Liberation Sans, sans-serif" >CDCAAla</text>
<g fill="#ee8470" fill-opacity="0.25" stroke="#ee8470" stroke-width="0.6"><path d="M217.7,259.6 l1.10,1.10 l-1.10,1.10 l-1.10,-1.10 Z"/><path d="M213.2,263.4 l1.10,1.10 l-1.10,1.10 l-1.10,-1.10 Z"/><path d="M199.5,266.9 l1.10,1.10 l-1.10,1.10 l-1.10,-1.10 Z"/><path d="M223.0,270.4 l1.10,1.10 l-1.10,1.10 l-1.10,-1.10 Z"/><path d="M203.4,273.8 l1.10,1.10 l-1.10,1.10 l-1.10,-1.10 Z"/><path d="M226.5,277.5 l1.10,1.10 l-1.10,1.10 l-1.10,-1.10 Z"/><path d="M206.3,281.4 l1.10,1.10 l-1.10,1.10 l-1.10,-1.10 Z"/><path d="M221.0,284.9 l1.10,1.10 l-1.10,1.10 l-1.10,-1.10 Z"/><path d="M227.1,288.7 l1.10,1.10 l-1.10,1.10 l-1.10,-1.10 Z"/><path d="M217.7,292.2 l1.10,1.10 l-1.10,1.10 l-1.10,-1.10 Z"/><path d="M226.5,295.9 l1.10,1.10 l-1.10,1.10 l-1.10,-1.10 Z"/><path d="M216.7,299.6 l1.10,1.10 l-1.10,1.10 l-1.10,-1.10 Z"/><path d="M224.9,303.1 l1.10,1.10 l-1.10,1.10 l-1.10,-1.10 Z"/><path d="M224.9,306.5 l1.10,1.10 l-1.10,1.10 l-1.10,-1.10 Z"/><path d="M233.3,310.4 l1.10,1.10 l-1.10,1.10 l-1.10,-1.10 Z"/><path d="M228.8,321.1 l1.10,1.10 l-1.10,1.10 l-1.10,-1.10 Z"/><path d="M220.2,325.0 l1.10,1.10 l-1.10,1.10 l-1.10,-1.10 Z"/><path d="M219.2,328.4 l1.10,1.10 l-1.10,1.10 l-1.10,-1.10 Z"/><path d="M216.7,332.3 l1.10,1.10 l-1.10,1.10 l-1.10,-1.10 Z"/></g>
<g stroke="#ee8470" fill="none" opacity="0.4"><path d="M226.5,315.0 H232.4" stroke-width="1.1"/><path d="M226.5,313.4 v3.2 M232.4,313.4 v3.2" stroke-width="0.8"/></g><rect x="228.3" y="313.9" width="2.1" height="2.1" fill="#ee8470"/><rect x="228.3" y="313.9" width="2.1" height="2.1" fill="#000" fill-opacity="0.25"/><text x="240.2" y="316.0" font-size="3.6" fill="#ee8470" text-anchor="start" textLength="11.1" lengthAdjust="spacingAndGlyphs" font-family="Liberation Sans, sans-serif" >CAGly</text>
<g stroke="#ee8470" fill="none" opacity="0.4"><path d="M162.3,318.3 H225.5" stroke-width="1.1"/><path d="M162.3,316.7 v3.2 M225.5,316.7 v3.2" stroke-width="0.8"/></g><rect x="192.8" y="317.2" width="2.1" height="2.1" fill="#ee8470"/><rect x="192.8" y="317.2" width="2.1" height="2.1" fill="#000" fill-opacity="0.25"/><text x="166.3" y="313.4" font-size="3.6" fill="#ee8470" text-anchor="start" textLength="19.1" lengthAdjust="spacingAndGlyphs" font-family="Liberation Sans, sans-serif" >CAOrnithine</text>
<text x="163.3" y="339.8" font-size="3.2" fill="#888" text-anchor="middle" font-family="Liberation Sans, sans-serif" >-2</text>
<text x="194.5" y="339.8" font-size="3.2" fill="#888" text-anchor="middle" font-family="Liberation Sans, sans-serif" >-1</text>
<text x="226.4" y="339.8" font-size="3.2" fill="#888" text-anchor="middle" font-family="Liberation Sans, sans-serif" >0</text>
<text x="258.4" y="339.8" font-size="3.2" fill="#888" text-anchor="middle" font-family="Liberation Sans, sans-serif" >1</text>
<text x="191.3" y="343.7" font-size="5.4" fill="#000" text-anchor="start" textLength="40.7" lengthAdjust="spacingAndGlyphs" font-family="Liberation Sans, sans-serif" stroke="#000" stroke-width="0.07">Coefficient Estimate</text>
<path d="M168.1,348.2 l1.3,1.3 l-1.3,1.3 l-1.3,-1.3 Z" fill="none" stroke="#222" stroke-width="0.6"/>
<text x="172.9" y="350.8" font-size="3.8" fill="#000" text-anchor="start" textLength="20.6" lengthAdjust="spacingAndGlyphs" font-family="Liberation Sans, sans-serif" >Not Significant</text>
<rect x="197" y="348.4" width="2.2" height="2.2" fill="#222"/>
<text x="202.3" y="350.8" font-size="3.8" fill="#000" text-anchor="start" textLength="15.5" lengthAdjust="spacingAndGlyphs" font-family="Liberation Sans, sans-serif" >Significant</text>
<path d="M166.1,355.4 h4 M168.1,354.1 l1.3,1.3 l-1.3,1.3 l-1.3,-1.3 Z" fill="none" stroke="#ee8470" stroke-width="0.6"/>
<text x="173.1" y="356.8" font-size="3.8" fill="#000" text-anchor="start" textLength="4.6" lengthAdjust="spacingAndGlyphs" font-family="Liberation Sans, sans-serif" >CA</text>
<path d="M181.0,355.4 h4 M183.0,354.1 l1.3,1.3 l-1.3,1.3 l-1.3,-1.3 Z" fill="none" stroke="#e0785e" stroke-width="0.6"/>
<text x="186.9" y="356.8" font-size="3.8" fill="#000" text-anchor="start" textLength="8.3" lengthAdjust="spacingAndGlyphs" font-family="Liberation Sans, sans-serif" >CDCA</text>
<path d="M198.7,355.4 h4 M200.7,354.1 l1.3,1.3 l-1.3,1.3 l-1.3,-1.3 Z" fill="none" stroke="#a86050" stroke-width="0.6"/>
<text x="205" y="356.8" font-size="3.8" fill="#000" text-anchor="start" textLength="6.6" lengthAdjust="spacingAndGlyphs" font-family="Liberation Sans, sans-serif" >DCA</text>
<path d="M214.5,355.4 h4 M216.5,354.1 l1.3,1.3 l-1.3,1.3 l-1.3,-1.3 Z" fill="none" stroke="#4040a0" stroke-width="0.6"/>
<text x="221.1" y="356.8" font-size="3.8" fill="#000" text-anchor="start" textLength="8.5" lengthAdjust="spacingAndGlyphs" font-family="Liberation Sans, sans-serif" >HDCA</text>
<path d="M232.6,355.4 h4 M234.6,354.1 l1.3,1.3 l-1.3,1.3 l-1.3,-1.3 Z" fill="none" stroke="#a02828" stroke-width="0.6"/>
<text x="238.6" y="356.8" font-size="3.8" fill="#000" text-anchor="start" textLength="8.8" lengthAdjust="spacingAndGlyphs" font-family="Liberation Sans, sans-serif" >UDCA</text>
</svg>
</body></html>
